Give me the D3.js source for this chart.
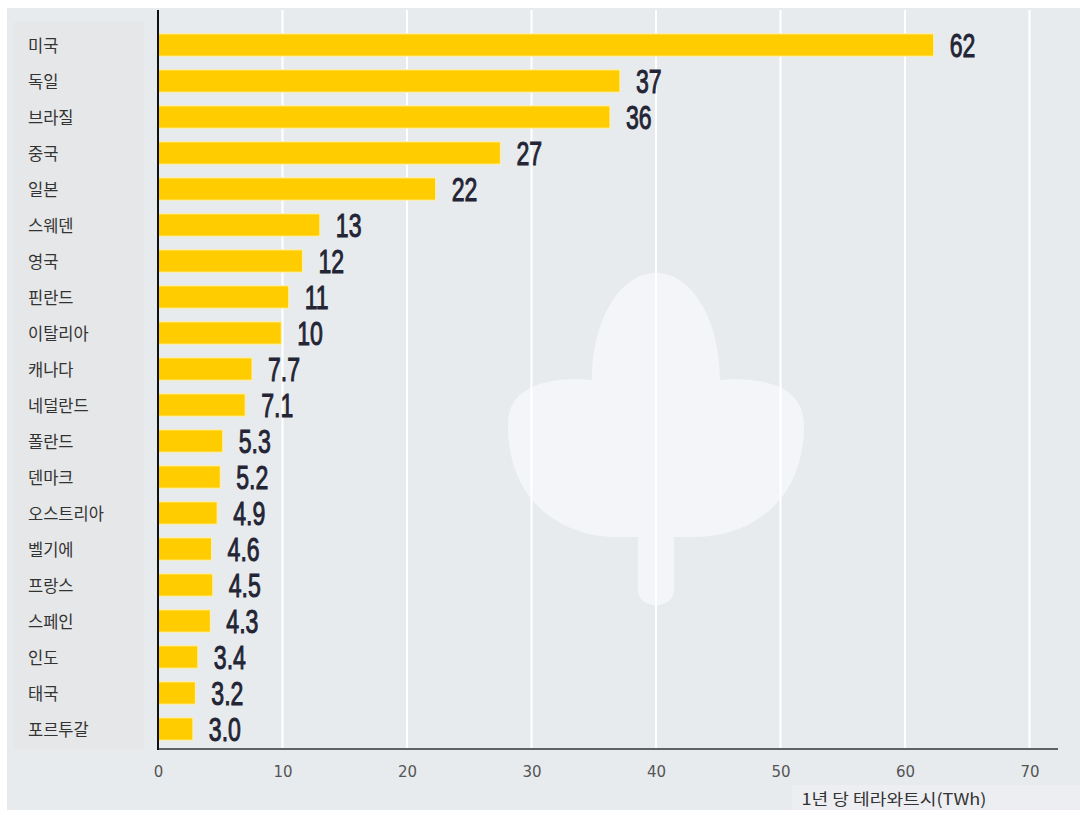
<!DOCTYPE html>
<html><head><meta charset="utf-8">
<script src="https://cdn.jsdelivr.net/npm/d3@7"></script>
<style>html,body{margin:0;padding:0;background:#fff;}svg{display:block;}</style>
</head><body>
<svg id="c" width="1080" height="815"></svg>
<script>
const countries = ["미국","독일","브라질","중국","일본","스웨덴","영국","핀란드","이탈리아","캐나다","네덜란드","폴란드","덴마크","오스트리아","벨기에","프랑스","스페인","인도","태국","포르투갈"];
// bar lengths (TWh)
const values = [62.3,37.1,36.3,27.5,22.3,13.0,11.6,10.5,9.9,7.55,7.0,5.2,5.0,4.75,4.3,4.4,4.2,3.2,3.0,2.8];
const valueLabels = ["62","37","36","27","22","13","12","11","10","7.7","7.1","5.3","5.2","4.9","4.6","4.5","4.3","3.4","3.2","3.0"];
const xTicks = [0,10,20,30,40,50,60,70];
const xTitle = "1년 당 테라와트시(TWh)";

const svg = d3.select("#c");
const W = 1080, H = 815;
const mLeft = 158, mRight = 1029.5, mTop = 27, mBottom = 747;

// backgrounds
svg.append("rect").attr("x",0).attr("y",0).attr("width",W).attr("height",H).attr("fill","#ffffff");
svg.append("rect").attr("x",7).attr("y",8).attr("width",W-7).attr("height",802).attr("fill","#e8ebee");
svg.append("rect").attr("x",14).attr("y",22).attr("width",130).attr("height",728).attr("fill","#e6e7e8");
svg.append("rect").attr("x",792).attr("y",785).attr("width",288).attr("height",25).attr("fill","#eceef1");

const x = d3.scaleLinear().domain([0,70]).range([mLeft,mRight]);
const y = d3.scaleBand().domain(countries).range([mTop,mBottom]).paddingInner(0.38).paddingOuter(0.19);

// leaf watermark positioned with the scales
const cx = x(40);
const leaf = d3.path();
leaf.moveTo(cx, 273);
leaf.bezierCurveTo(cx-36,273, cx-64,320, cx-64,380);
leaf.bezierCurveTo(cx-90,378, cx-148,378, cx-148,425);
leaf.bezierCurveTo(cx-148,505, cx-90,537, cx-40,537);
leaf.lineTo(cx-18,537);
leaf.lineTo(cx-18,590);
leaf.bezierCurveTo(cx-18,610, cx+18,610, cx+18,590);
leaf.lineTo(cx+18,537);
leaf.lineTo(cx+40,537);
leaf.bezierCurveTo(cx+90,537, cx+148,505, cx+148,425);
leaf.bezierCurveTo(cx+148,378, cx+90,378, cx+64,380);
leaf.bezierCurveTo(cx+64,320, cx+36,273, cx,273);
leaf.closePath();
svg.append("path").attr("d",leaf.toString()).attr("fill","#f4f5f8");

// gridlines
svg.append("g").selectAll("line").data(xTicks.filter(d=>d>0)).join("line")
  .attr("x1",d=>x(d)).attr("x2",d=>x(d)).attr("y1",10).attr("y2",748)
  .attr("stroke","#ffffff").attr("stroke-width",2);

// bars
svg.append("g").selectAll("rect").data(values).join("rect")
  .attr("x",x(0)).attr("y",(d,i)=>y(countries[i]))
  .attr("width",d=>x(d)-x(0)).attr("height",y.bandwidth())
  .attr("fill","#ffcc00").attr("stroke","#fff1a8").attr("stroke-width",1);

// value labels (condensed)
svg.append("g").selectAll("text").data(values).join("text")
  .attr("transform",(d,i)=>`translate(${x(d)+16},${y(countries[i])+y.bandwidth()/2+12}) scale(0.7,1)`)
  .attr("font-family","'Liberation Sans Narrow','Liberation Sans',sans-serif")
  .attr("font-size",33).attr("fill","#232535")
  .attr("stroke","#232535").attr("stroke-width",1)
  .text((d,i)=>valueLabels[i]);

// category labels
svg.append("g").selectAll("text").data(countries).join("text")
  .attr("x",28).attr("y",d=>y(d)+y.bandwidth()/2+1).attr("dy","0.36em")
  .attr("font-family","'Noto Sans CJK KR',sans-serif").attr("font-size",16.5).attr("fill","#333")
  .text(d=>d);

// axes
const xAxis = d3.axisBottom(x).tickValues(xTicks).tickSize(0).tickPadding(17);
const gx = svg.append("g").attr("transform",`translate(0,${749})`).call(xAxis);
gx.select(".domain").remove();
gx.selectAll("text").attr("font-family","'DejaVu Sans',sans-serif").attr("font-size",15).attr("fill","#555");
svg.append("line").attr("x1",x(0)).attr("x2",1058).attr("y1",749).attr("y2",749).attr("stroke","#333").attr("stroke-width",1.5);
const yAxis = d3.axisLeft(y).tickSize(0).tickFormat("");
const gy = svg.append("g").attr("transform",`translate(${x(0)},0)`).call(yAxis);
gy.select(".domain").remove();
svg.append("line").attr("x1",x(0)).attr("x2",x(0)).attr("y1",10).attr("y2",750).attr("stroke","#111").attr("stroke-width",2);

svg.append("text").attr("x",894).attr("y",805).attr("text-anchor","middle")
  .attr("font-family","'Noto Sans CJK KR',sans-serif").attr("font-size",16).attr("fill","#333")
  .attr("textLength",185).attr("lengthAdjust","spacingAndGlyphs").text(xTitle);
</script>
</body></html>
